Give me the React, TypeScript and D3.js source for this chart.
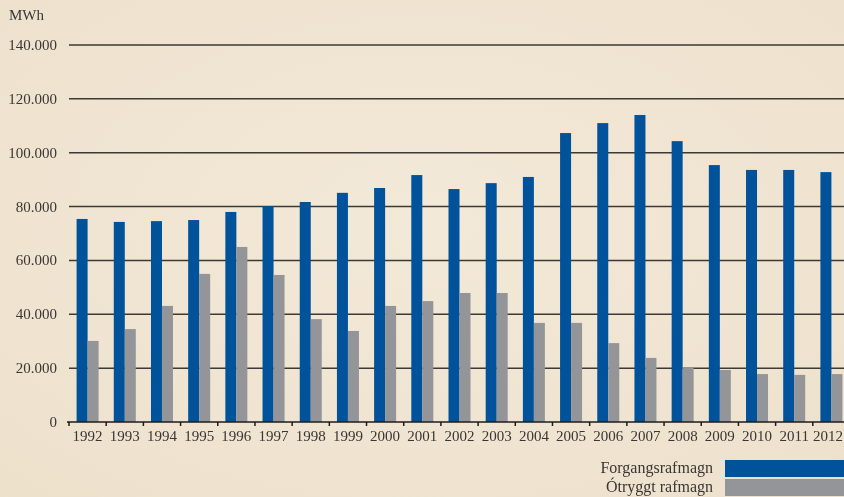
import React, { useRef, useEffect } from 'react';
import * as d3 from 'd3';

const years = ['1992', '1993', '1994', '1995', '1996', '1997', '1998', '1999', '2000', '2001', '2002',
  '2003', '2004', '2005', '2006', '2007', '2008', '2009', '2010', '2011', '2012'];
const forgangs = [75400, 74300, 74600, 75000, 78000, 80200, 81700, 85100, 86900, 91700, 86500,
  88700, 91000, 107300, 111000, 114000, 104300, 95400, 93600, 93600, 92800];
const otryggt = [30100, 34500, 43100, 55000, 65000, 54600, 38200, 33800, 43100, 44900, 47900,
  47900, 36800, 36800, 29300, 23800, 20400, 19300, 17800, 17500, 17800];
const yTicks = [0, 20000, 40000, 60000, 80000, 100000, 120000, 140000];
const seriesNames = ['Forgangsrafmagn', 'Ótryggt rafmagn'];
const colors = ['#00529b', '#939598'];

const W = 844;
const H = 497;
const FONT = '"Liberation Serif", "DejaVu Serif", serif';
const TEXT = '#3a3633';

export default function App() {
  const svgRef = useRef<SVGSVGElement>(null);

  useEffect(() => {
    const svg = d3.select(svgRef.current);
    svg.selectAll('*').remove();

    // parchment background
    const defs = svg.append('defs');
    const grad = defs.append('radialGradient').attr('id', 'paper').attr('cx', '50%').attr('cy', '45%').attr('r', '75%');
    grad.append('stop').attr('offset', '0%').attr('stop-color', '#f3e9d8');
    grad.append('stop').attr('offset', '100%').attr('stop-color', '#ede1cc');
    svg.append('rect').attr('width', W).attr('height', H).attr('fill', 'url(#paper)');

    const left = 69;
    const x = d3.scaleBand().domain(years).range([left, 850]).paddingInner(0).paddingOuter(0);
    const y = d3.scaleLinear().domain([0, 140000]).range([422, 45]);
    const barW = 11;

    // gridlines
    svg.append('g').selectAll('line')
      .data(yTicks.filter(t => t > 0))
      .join('line')
      .attr('x1', left).attr('x2', W)
      .attr('y1', d => y(d)).attr('y2', d => y(d))
      .attr('stroke', '#3d3935').attr('stroke-width', 1.5);

    // y tick labels
    const fmt = (v: number) => v === 0 ? '0' : d3.format(',')(v).replace(/,/g, '.');
    svg.append('g').selectAll('text')
      .data(yTicks)
      .join('text')
      .attr('x', 57).attr('y', d => y(d) + 5)
      .attr('text-anchor', 'end')
      .attr('font-family', FONT).attr('font-size', 15).attr('fill', TEXT)
      .text(d => fmt(d));

    svg.append('text')
      .attr('x', 9).attr('y', 20)
      .attr('font-family', FONT).attr('font-size', 15).attr('fill', TEXT)
      .text('MWh');

    // bars
    const cx = (yr: string) => (x(yr) as number) + x.bandwidth() / 2;
    svg.append('g').selectAll('rect')
      .data(years)
      .join('rect')
      .attr('x', d => cx(d) - barW)
      .attr('y', (d, i) => y(forgangs[i]))
      .attr('width', barW)
      .attr('height', (d, i) => y(0) - y(forgangs[i]))
      .attr('fill', colors[0]);
    svg.append('g').selectAll('rect')
      .data(years)
      .join('rect')
      .attr('x', d => cx(d))
      .attr('y', (d, i) => y(otryggt[i]))
      .attr('width', barW)
      .attr('height', (d, i) => y(0) - y(otryggt[i]))
      .attr('fill', colors[1]);

    // x axis
    svg.append('line')
      .attr('x1', left - 2).attr('x2', W)
      .attr('y1', y(0)).attr('y2', y(0))
      .attr('stroke', '#1e1c1a').attr('stroke-width', 1.5);
    svg.append('g').selectAll('line')
      .data(years)
      .join('line')
      .attr('x1', d => x(d) as number).attr('x2', d => x(d) as number)
      .attr('y1', y(0)).attr('y2', y(0) + 4)
      .attr('stroke', '#1e1c1a').attr('stroke-width', 1.5);
    // the last label is nudged in so it stays on the canvas
    svg.append('g').selectAll('text')
      .data(years)
      .join('text')
      .attr('x', d => Math.min(cx(d), W - 16))
      .attr('y', 441)
      .attr('text-anchor', 'middle')
      .attr('font-family', FONT).attr('font-size', 15).attr('fill', TEXT)
      .text(d => d);

    // legend
    const lg = svg.append('g');
    seriesNames.forEach((name, i) => {
      const top = 460 + i * 19;
      lg.append('rect').attr('x', 725).attr('y', top).attr('width', W - 725).attr('height', 17).attr('fill', colors[i]);
      lg.append('text')
        .attr('x', 713).attr('y', top + 13)
        .attr('text-anchor', 'end')
        .attr('font-family', FONT).attr('font-size', 16).attr('fill', TEXT)
        .text(name);
    });
  }, []);

  return (
    <div style={{ position: 'fixed', left: 0, top: 0, width: W, height: H, overflow: 'hidden' }}>
      <svg ref={svgRef} width={W} height={H} style={{ display: 'block' }} />
    </div>
  );
}
